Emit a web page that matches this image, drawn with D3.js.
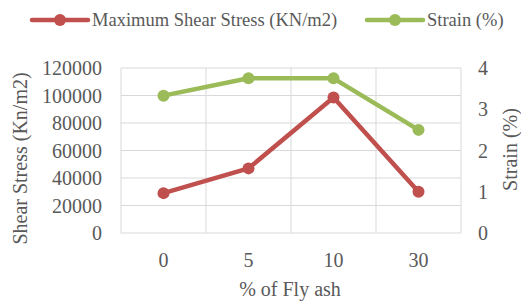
<!DOCTYPE html>
<html>
<head>
<meta charset="utf-8">
<script src="https://cdn.jsdelivr.net/npm/d3@7"></script>
</head>
<body style="margin:0">
<svg id="chart" width="521" height="301"></svg>
<script>
// data
const categories = ["0", "5", "10", "30"];
const shearStress = [29000, 47000, 98500, 30000];
const strain = [3.33, 3.75, 3.75, 2.5];
const leftTicks = [0, 20000, 40000, 60000, 80000, 100000, 120000];
const rightTicks = [0, 1, 2, 3, 4];

const W = 521, H = 301;
const margin = { top: 68, right: 60, bottom: 68, left: 121 };
const width = W - margin.left - margin.right,
      height = H - margin.top - margin.bottom;

const svg = d3.select("#chart");

const g = svg.append("g")
  .attr("transform", `translate(${margin.left},${margin.top})`);

const x = d3.scaleBand().domain(categories).range([0, width]);
const yL = d3.scaleLinear().domain([0, 120000]).range([height, 0]);
const yR = d3.scaleLinear().domain([0, 4]).range([height, 0]);

// text styling
function label(sel, size) {
  return sel.style("font-family", "Liberation Serif")
    .style("font-size", (size || 20) + "px").style("fill", "#595959");
}

// grid
g.selectAll(".hgrid").data(leftTicks).enter().append("line")
  .attr("x1", 0).attr("x2", width)
  .attr("y1", d => yL(d)).attr("y2", d => yL(d))
  .attr("stroke", "#d9d9d9").attr("stroke-width", 1);
const bounds = categories.map(c => x(c)).concat([width]);
g.selectAll(".vgrid").data(bounds).enter().append("line")
  .attr("x1", d => d).attr("x2", d => d)
  .attr("y1", 0).attr("y2", height)
  .attr("stroke", "#d9d9d9").attr("stroke-width", 1);

// tick labels
g.selectAll(".ltick").data(leftTicks).enter().append("text")
  .attr("x", -19).attr("y", d => yL(d)).attr("dy", "0.35em")
  .attr("text-anchor", "end").call(label)
  .text(d => d);
g.selectAll(".rtick").data(rightTicks).enter().append("text")
  .attr("x", width + 22).attr("y", d => yR(d)).attr("dy", "0.35em")
  .attr("text-anchor", "middle").call(label)
  .text(d => d);
g.selectAll(".xtick").data(categories).enter().append("text")
  .attr("x", d => x(d) + x.bandwidth() / 2).attr("y", height + 27).attr("dy", "0.35em")
  .attr("text-anchor", "middle").call(label)
  .text(d => d);

// axis titles
svg.append("text")
  .attr("transform", `translate(20,${margin.top + height / 2 + 8}) rotate(-90)`)
  .attr("text-anchor", "middle").attr("dy", "0.35em").call(label)
  .text("Shear Stress (Kn/m2)");
svg.append("text")
  .attr("transform", `translate(510,${margin.top + height / 2 - 1}) rotate(-90)`)
  .attr("text-anchor", "middle").attr("dy", "0.35em").call(label)
  .text("Strain (%)");
svg.append("text")
  .attr("x", margin.left + width / 2 - 1).attr("y", 289).attr("dy", "0.35em")
  .attr("text-anchor", "middle").call(label)
  .text("% of Fly ash");

// series
const series = [
  { name: "Maximum Shear Stress (KN/m2)", values: shearStress, y: yL, color: "#c0504d" },
  { name: "Strain (%)", values: strain, y: yR, color: "#9bbb59" }
];

series.forEach(s => {
  const line = d3.line()
    .x((d, i) => x(categories[i]) + x.bandwidth() / 2)
    .y(d => s.y(d));
  g.append("path").datum(s.values)
    .attr("d", line).attr("fill", "none")
    .attr("stroke", s.color).attr("stroke-width", 4.5)
    .attr("stroke-linejoin", "round").attr("stroke-linecap", "round");
  g.selectAll(null).data(s.values).enter().append("circle")
    .attr("cx", (d, i) => x(categories[i]) + x.bandwidth() / 2)
    .attr("cy", d => s.y(d)).attr("r", 6)
    .attr("fill", s.color);
});

// legend
const legendX = [32, 367];
series.forEach((s, i) => {
  const lg = svg.append("g").attr("transform", `translate(${legendX[i]},20)`);
  lg.append("line").attr("x1", 0).attr("x2", 56).attr("y1", 0).attr("y2", 0)
    .attr("stroke", s.color).attr("stroke-width", 4.5).attr("stroke-linecap", "round");
  lg.append("circle").attr("cx", 28).attr("cy", 0).attr("r", 6).attr("fill", s.color);
  lg.append("text").attr("x", 60).attr("y", 0).attr("dy", "0.35em")
    .call(label, 18.5).text(s.name);
});
</script>
</body>
</html>
